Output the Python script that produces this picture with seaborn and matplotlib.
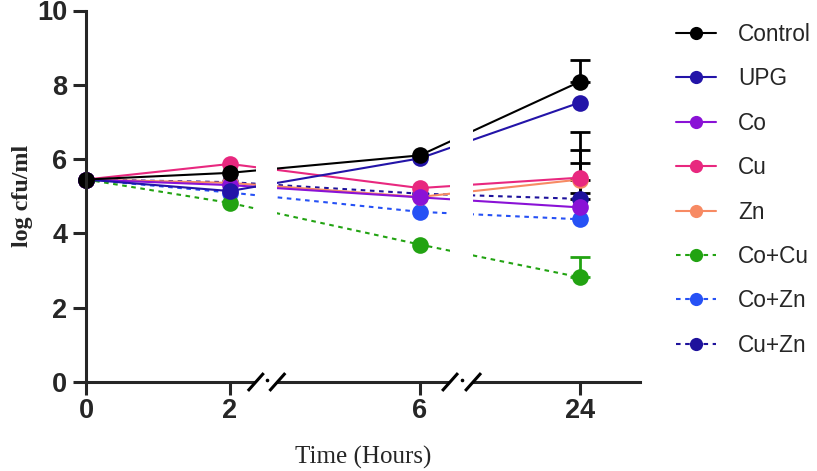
import numpy as np
import pandas as pd
import matplotlib
matplotlib.use("Agg")
import matplotlib.pyplot as plt
import matplotlib.transforms as mtransforms
from matplotlib.lines import Line2D
from matplotlib.patches import Rectangle
import seaborn as sns

# ---------------- data ----------------
times = ["0", "2", "6", "24"]
groups = ["Control", "UPG", "Co", "Cu", "Zn", "Co+Cu", "Co+Zn", "Cu+Zn"]

control = [5.45, 5.63, 6.10, 8.08]
upg = [5.45, 5.14, 6.02, 7.52]
co = [5.45, 5.30, 4.97, 4.70]
cu = [5.45, 5.87, 5.22, 5.50]
zn = [5.45, 5.36, 4.98, 5.45]
co_cu = [5.45, 4.82, 3.70, 2.82]
co_zn = [5.45, 5.10, 4.58, 4.38]
cu_zn = [5.45, 5.38, 5.07, 4.93]

# error bars (only visible at 24 h)
err_upper_24 = [0.60, 0.0, 0.0, 0.40, 0.80, 0.55, 0.0, 1.79]
err_lower_24 = [0.0, 0.0, 0.0, 0.40, 0.0, 0.0, 0.0, 0.0]

values = [control, upg, co, cu, zn, co_cu, co_zn, cu_zn]

colors = ["#000000", "#2314a8", "#8a12d6", "#e8287f", "#f78a63",
          "#22a312", "#2651f5", "#1e129c"]
dotted = [False, False, False, False, False, True, True, True]
err_colors = ["#000000", "#000000", "#000000", "#000000", "#000000",
              "#22a312", "#000000", "#000000"]

# ---------------- broken x-axis layout ----------------
x_pos = [0.0, 1.0, 2.32, 3.43]            # positions of the time categories
gaps = [(1.18, 1.33), (2.53, 2.69)]        # axis breaks
x_max = 3.85

rows = []
for g, vals in zip(groups, values):
    for p, v in zip(x_pos, vals):
        rows.append({"group": g, "pos": p, "value": v})
df = pd.DataFrame(rows)

sns.set_style("ticks")
plt.rcParams["font.family"] = ["Liberation Sans", "DejaVu Sans"]

fig = plt.figure(figsize=(8.17, 4.71), dpi=100)
ax = fig.add_axes([86 / 817, 1 - 382 / 471, (640 - 86) / 817, (382 - 10.5) / 471])

palette = dict(zip(groups, colors))
dashes = {g: ((2.2, 2.2) if d else "") for g, d in zip(groups, dotted)}
markers = {g: "o" for g in groups}
order = groups[::-1]

# error bars (under markers)
for g, vals, eu, el, ec in zip(groups, values, err_upper_24, err_lower_24, err_colors):
    if eu > 0 or el > 0:
        ax.errorbar([x_pos[3]], [vals[3]], yerr=[[el], [eu]], fmt="none",
                    ecolor=ec, elinewidth=2.0, capsize=7.5, capthick=2.0,
                    zorder=1.5, clip_on=False)

sns.lineplot(data=df, x="pos", y="value", hue="group", style="group",
             hue_order=order, style_order=order, palette=palette,
             dashes=dashes, markers=markers, markersize=12,
             markeredgewidth=0, linewidth=1.5, legend=False,
             sort=False, ax=ax)
for ln in ax.lines:
    ln.set_clip_on(False)

ax.set_xlim(0, x_max)
ax.set_ylim(0, 10)
ax.set_yticks([0, 2, 4, 6, 8, 10])
ax.set_xticks(x_pos)
ax.set_xticklabels(times)
for s in ["top", "right"]:
    ax.spines[s].set_visible(False)
for s in ["left", "bottom"]:
    ax.spines[s].set_linewidth(2.2)
ax.tick_params(axis="y", length=9.5, width=2.2, labelsize=19.5, pad=4)
ax.tick_params(axis="x", length=9.5, width=2.2, labelsize=19.5, pad=2)
for lab in ax.get_xticklabels() + ax.get_yticklabels():
    lab.set_fontweight("bold")

ax.set_xlabel("Time (Hours)", family=["Liberation Serif"], fontsize=18, labelpad=16)
ax.set_ylabel("log cfu/ml", family=["Liberation Serif"], fontsize=17.3,
              fontweight="bold", labelpad=3)

# breaks: white gaps + slashes
trans = mtransforms.blended_transform_factory(ax.transData, ax.transAxes)
for (a, b) in gaps:
    ax.add_patch(Rectangle((a, -0.02), b - a, 1.02, transform=trans,
                           facecolor="white", edgecolor="none",
                           zorder=3, clip_on=False))
    for xc in (a, b):
        ax.plot([xc - 0.055, xc + 0.055], [-0.024, 0.024], color="black",
                lw=2.2, transform=trans, zorder=4, clip_on=False,
                solid_capstyle="butt")
    ax.plot([(a + b) / 2], [0.006], marker="o", markersize=1.6, color="black",
            transform=trans, zorder=4, clip_on=False)

# legend
handles = []
for g, c, d in zip(groups, colors, dotted):
    handles.append(Line2D([0], [0], color=c, lw=1.5,
                          linestyle=(0, (2.2, 2.2)) if d else "-",
                          marker="o", markersize=9.5, markeredgewidth=0))
leg = fig.legend(handles, groups, loc="upper left",
                 bbox_to_anchor=(676 / 817, 1 - 23 / 471), frameon=False,
                 fontsize=16.3, handlelength=1.75, handletextpad=1.0,
                 labelspacing=0.945, borderaxespad=0, borderpad=0)

fig.savefig("out.png", dpi=100)
